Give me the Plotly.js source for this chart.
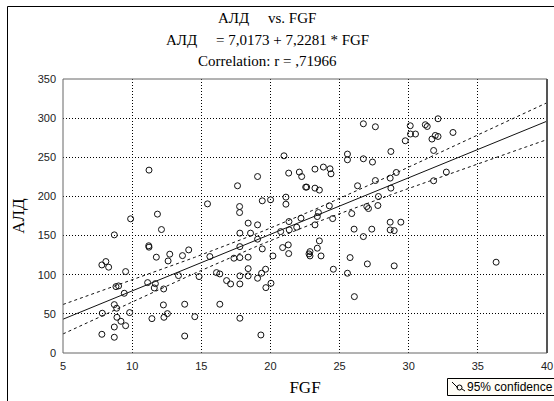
<!DOCTYPE html>
<html>
<head>
<meta charset="utf-8">
<script src="https://cdn.plot.ly/plotly-3.0.1.min.js"></script>
<style>
html,body{margin:0;padding:0;background:#fff;}
#chart{width:554px;height:401px;}
</style>
</head>
<body>
<div id="chart"></div>
<script>
// ---- data ----
const fgf = [
  11.22, 9.89, 11.83, 12.12, 8.71, 11.22, 11.20, 11.75, 12.72, 12.60, 13.64, 8.10, 7.81, 8.30, 9.53,
  8.83, 9.02, 9.43, 11.12, 11.68, 11.60, 12.28, 13.35, 12.26, 13.80, 8.71, 8.88, 7.84, 9.82, 8.90,
  9.19, 9.53, 8.71, 11.43, 12.30, 12.55, 7.81, 8.71, 13.80,
  15.45, 20.98, 19.07, 17.62, 21.32, 22.09, 22.26, 22.55, 17.77, 17.77, 19.41, 20.01, 21.12, 21.12,
  18.39, 19.07, 17.79, 18.56, 19.07, 21.34, 20.74, 21.90, 22.21, 21.36, 14.09, 15.62, 17.36, 17.79,
  18.39, 17.79, 19.41, 20.18, 20.88, 21.29, 21.32, 22.79, 14.84, 16.10, 16.34, 16.83, 17.12, 17.79,
  18.39, 18.39, 17.79, 19.07, 19.36, 19.65, 19.67, 20.04, 16.34, 14.53, 17.79, 19.31,
  26.72, 27.59, 30.11, 31.20, 31.34, 30.13, 30.49, 29.75, 28.71, 25.57, 25.57, 26.72, 27.38, 23.22,
  23.83, 24.31, 24.38, 22.62, 23.22, 23.54, 26.30, 27.59, 28.66, 29.10, 28.71, 27.81, 27.77, 26.97,
  27.09, 24.26, 25.88, 23.47, 23.39, 24.50, 23.22, 26.05, 27.33, 28.66, 29.43, 28.66, 28.95, 26.72,
  23.54, 23.39, 22.86, 22.86, 23.66, 25.76, 27.01, 28.95, 24.55, 25.57, 26.07,
  32.12, 31.92, 32.12, 31.68, 33.20, 31.80, 32.72, 31.80, 36.32
];
const ald = [
  233.6, 171.4, 177.4, 157.7, 150.9, 135.2, 137.0, 122.4, 126.2, 117.6, 124.4, 116.8, 112.5, 109.6, 104.0,
  84.8, 85.7, 76.3, 89.9, 88.6, 83.1, 81.8, 98.9, 61.4, 62.3, 61.8, 57.2, 50.8, 51.6, 45.6,
  40.5, 34.9, 33.2, 43.9, 45.6, 50.3, 23.9, 20.1, 21.7,
  190.5, 251.9, 225.4, 213.6, 229.8, 231.1, 225.4, 211.9, 187.1, 179.4, 194.4, 195.7, 199.1, 190.1,
  165.9, 163.7, 153.1, 153.1, 145.4, 167.9, 155.1, 160.7, 172.2, 157.3, 131.7, 123.2, 121.1, 121.9,
  122.4, 135.9, 133.0, 124.0, 134.7, 138.1, 127.0, 126.6, 97.6, 102.7, 101.0, 92.5, 88.2, 98.5,
  98.5, 107.8, 88.2, 95.5, 101.9, 107.0, 83.5, 89.1, 62.3, 46.4, 44.4, 23.0,
  292.8, 289.0, 290.3, 291.6, 289.4, 279.7, 279.7, 271.1, 257.4, 254.1, 246.8, 248.1, 243.9, 234.9,
  237.5, 235.3, 228.9, 211.9, 210.6, 208.1, 213.6, 220.3, 223.4, 230.6, 210.6, 199.9, 188.4, 187.1,
  184.5, 188.0, 178.1, 179.4, 174.3, 171.7, 163.7, 158.2, 158.2, 167.1, 167.1, 157.2, 156.3, 148.7,
  143.2, 133.9, 129.5, 124.0, 124.0, 121.9, 113.8, 111.3, 107.0, 101.9, 72.0,
  299.2, 277.9, 276.6, 273.3, 281.7, 258.7, 231.1, 220.0, 116.0
];
const intercept = 7.0173;
const slope = 7.2281;
const titleLines = ["АЛД\u00a0\u00a0\u00a0\u00a0\u00a0vs. FGF",
                    "АЛД\u00a0\u00a0\u00a0\u00a0\u00a0= 7,0173 + 7,2281 * FGF",
                    "Correlation: r = ,71966"];
const xTicks = [5, 10, 15, 20, 25, 30, 35, 40];
const yTicks = [0, 50, 100, 150, 200, 250, 300, 350];
const legendText = "95% confidence";

// ---- regression line + 95% confidence band from the data ----
const n = fgf.length;
const xMean = fgf.reduce((a, b) => a + b, 0) / n;
let sxx = 0, sse = 0;
for (let i = 0; i < n; i++) {
  sxx += (fgf[i] - xMean) ** 2;
  const r = ald[i] - (intercept + slope * fgf[i]);
  sse += r * r;
}
const s = Math.sqrt(sse / (n - 2));
const tCrit = 1.975;
const xMin = xTicks[0], xMax = xTicks[xTicks.length - 1];
const xs = [], yFit = [], yUp = [], yLo = [];
for (let k = 0; k <= 70; k++) {
  const x = xMin + (xMax - xMin) * k / 70;
  const yhat = intercept + slope * x;
  const h = tCrit * s * Math.sqrt(1 / n + (x - xMean) ** 2 / sxx);
  xs.push(x); yFit.push(yhat); yUp.push(yhat + h); yLo.push(yhat - h);
}

const ink = '#111';
const traces = [
  {x: xs, y: yUp, mode: 'lines', line: {color: ink, width: 1, dash: '3px,3px'}, hoverinfo: 'skip'},
  {x: xs, y: yLo, mode: 'lines', line: {color: ink, width: 1, dash: '3px,3px'}, hoverinfo: 'skip'},
  {x: xs, y: yFit, mode: 'lines', line: {color: ink, width: 1}, hoverinfo: 'skip'},
  {x: fgf, y: ald, mode: 'markers', type: 'scatter',
   marker: {symbol: 'circle-open', size: 6, color: ink, line: {width: 1, color: ink}}}
];

// pixel helpers (plot area: x 63..547, y 79..353)
const L = 63, R = 547, T = 79, B = 353;
const px = v => (v - L) / (R - L);
const py = v => (B - v) / (B - T);

const serif = 'Liberation Serif, Times New Roman, serif';
const sans = 'Liberation Sans, Arial, sans-serif';

const annotations = titleLines.map((t, i) => ({
  text: t, xref: 'paper', yref: 'paper', x: px(267), y: py([18, 40, 61][i]),
  xanchor: 'center', yanchor: 'middle', showarrow: false,
  font: {family: serif, size: 15, color: '#000'}
}));
annotations.push({
  text: legendText, xref: 'paper', yref: 'paper',
  x: px(465), y: py(387), xanchor: 'left', yanchor: 'middle', showarrow: false,
  font: {family: sans, size: 12, color: '#000'}
});

const shapes = [
  // outer frame (left and top edges visible)
  {type: 'line', xref: 'paper', yref: 'paper', x0: px(7.5), x1: px(7.5), y0: py(6.5), y1: py(420), line: {color: '#000', width: 1}},
  {type: 'line', xref: 'paper', yref: 'paper', x0: px(7.5), x1: px(600), y0: py(6.5), y1: py(6.5), line: {color: '#000', width: 1}},
  // plot frame
  {type: 'rect', xref: 'paper', yref: 'paper', x0: 0, x1: 1, y0: 0, y1: 1, line: {color: '#666', width: 1}},
  {type: 'line', xref: 'paper', yref: 'paper', x0: 1, x1: 1, y0: 0, y1: 1, line: {color: '#555', width: 2}},
  // legend box and icon
  {type: 'rect', xref: 'paper', yref: 'paper', x0: px(447.5), x1: px(600), y0: py(378.5), y1: py(395.5),
   line: {color: '#000', width: 1}, fillcolor: '#fffdf6'},
  {type: 'line', xref: 'paper', yref: 'paper', x0: px(452), x1: px(458), y0: py(382), y1: py(388), line: {color: '#000', width: 1}},
  {type: 'circle', xref: 'paper', yref: 'paper', x0: px(457), x1: px(462), y0: py(385), y1: py(390), line: {color: '#000', width: 1}},
  {type: 'line', xref: 'paper', yref: 'paper', x0: px(462), x1: px(465), y0: py(389), y1: py(391), line: {color: '#000', width: 1}}
];

const axisCommon = {
  showgrid: true, gridcolor: '#000', gridwidth: 1, griddash: '1px,2px',
  zeroline: false, showline: false, ticks: '', mirror: false,
  tickfont: {family: sans, size: 11, color: '#222'}
};

const layout = {
  width: 554, height: 401,
  margin: {l: L, r: 554 - R, t: T, b: 401 - B, pad: 0},
  paper_bgcolor: '#fff', plot_bgcolor: '#fff',
  showlegend: false,
  xaxis: Object.assign({}, axisCommon, {
    range: [xMin, xMax], tickvals: xTicks, ticktext: xTicks.map(String), ticklabelstandoff: 5,
    title: {text: 'FGF', font: {family: serif, size: 17, color: '#000'}, standoff: 10}
  }),
  yaxis: Object.assign({}, axisCommon, {
    range: [yTicks[0], yTicks[yTicks.length - 1]], tickvals: yTicks, ticktext: yTicks.map(String), ticklabelstandoff: 6,
    title: {text: 'АЛД', font: {family: serif, size: 17, color: '#000'}, standoff: 8}
  }),
  annotations: annotations,
  shapes: shapes
};

Plotly.newPlot('chart', traces, layout, {displayModeBar: false, staticPlot: true});
</script>
</body>
</html>
